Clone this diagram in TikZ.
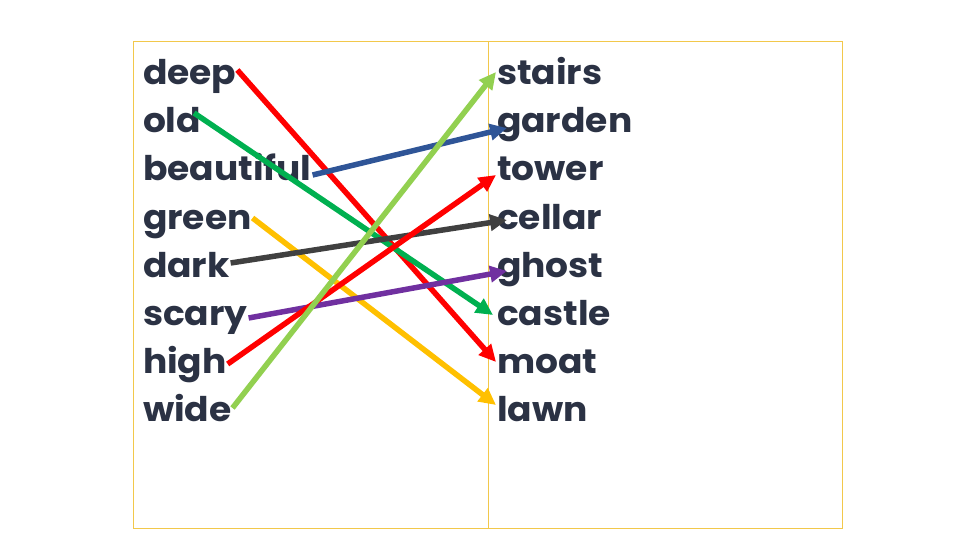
\documentclass[tikz,border=0pt]{standalone}
\usepackage{fontspec}
\setmainfont{Poppins}[FakeStretch=1.06]
\usepackage{xcolor}
\usepackage{tikz}
\usetikzlibrary{arrows.meta}
\definecolor{wordcol}{HTML}{2B3244}
\definecolor{framecol}{HTML}{F2C84B}
\definecolor{lred}{HTML}{FF0000}
\definecolor{lgreen}{HTML}{00B050}
\definecolor{lblue}{HTML}{2F5597}
\definecolor{lyellow}{HTML}{FFC000}
\definecolor{ldark}{HTML}{404040}
\definecolor{lpurple}{HTML}{7030A0}
\definecolor{llime}{HTML}{92D050}

\begin{document}
\begin{tikzpicture}[x=1pt, y=-1pt,
	word/.style={font=\fontsize{34}{40}\selectfont\bfseries, text=wordcol, anchor=base west, inner sep=0, outer sep=1, text height=26pt, text depth=8pt},
	frame/.style={draw=framecol, line width=0.8},
	link/.style={line width=5.5, -{Triangle[length=17,width=16]}}
]
\useasboundingbox (0,0) rectangle (960,540);
\draw[frame] (133,41) rectangle (488,528);
\draw[frame] (488,41) rectangle (842,528);

\node[word] (deep) at (142,85) {deep};
\node[word] (old) at (142,133) {old};
\node[word] (beautiful) at (142,181) {beautiful};
\node[word] (green) at (142,229) {green};
\node[word] (dark) at (142,277) {dark};
\node[word] (scary) at (142,325) {scary};
\node[word] (high) at (142,373) {high};
\node[word] (wide) at (142,421) {wide};

\node[word] (stairs) at (496,85) {stairs};
\node[word] (garden) at (496,133) {garden};
\node[word] (tower) at (496,181) {tower};
\node[word] (cellar) at (496,229) {cellar};
\node[word] (ghost) at (496,277) {ghost};
\node[word] (castle) at (496,325) {castle};
\node[word] (moat) at (496,373) {moat};
\node[word] (lawn) at (496,421) {lawn};

\draw[link, lyellow] ([yshift=2]green.east) -- ([yshift=7]lawn.west);
\draw[link, lred] ([yshift=6]deep.east) -- ([yshift=2]moat.west);
\draw[link, lgreen] ([xshift=-8,yshift=11]old.east) -- ([xshift=-3,yshift=1]castle.west);
\draw[link, ldark] ([yshift=5]dark.east) -- ([xshift=11]cellar.west);
\draw[link, lpurple] ([yshift=-2]scary.east) -- ([xshift=11,yshift=-3]ghost.west);
\draw[link, lred] (high.east) -- ([yshift=-3]tower.west);
\draw[link, lblue] ([yshift=-3]beautiful.east) -- ([xshift=11,yshift=-4]garden.west);
\draw[link, llime] ([yshift=4]wide.east) -- ([yshift=4]stairs.west);
\end{tikzpicture}
\end{document}
